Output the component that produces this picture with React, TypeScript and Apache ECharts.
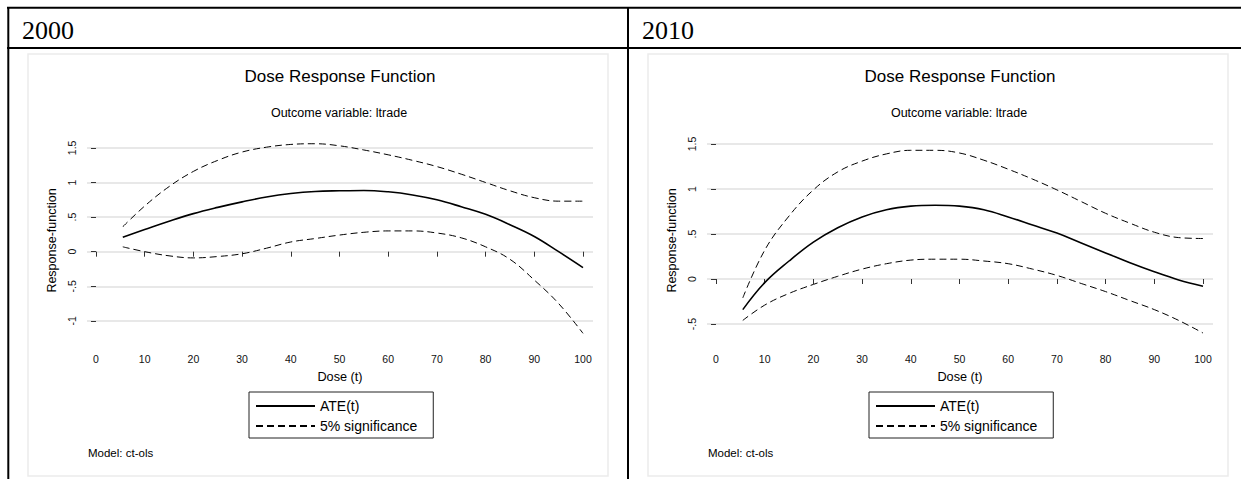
import React, { useEffect, useRef } from 'react';
import * as echarts from 'echarts';

// ---------------- data ----------------
const panelYears = ['2000', '2010'];
const dose = [5.5, 10, 15, 20, 25, 30, 35, 40, 45, 50, 55, 60, 65, 70, 75, 80, 85, 90, 95, 100];

const ate2000 = [0.21, 0.32, 0.44, 0.55, 0.64, 0.72, 0.79, 0.84, 0.87, 0.88, 0.885, 0.865, 0.82, 0.75, 0.65, 0.54, 0.39, 0.22, 0.0, -0.23];
const upper2000 = [0.36, 0.66, 0.94, 1.16, 1.32, 1.44, 1.51, 1.55, 1.56, 1.53, 1.47, 1.4, 1.32, 1.23, 1.12, 1.0, 0.88, 0.78, 0.73, 0.73];
const lower2000 = [0.07, 0.0, -0.06, -0.09, -0.07, -0.03, 0.05, 0.14, 0.19, 0.24, 0.28, 0.3, 0.3, 0.27, 0.2, 0.07, -0.11, -0.41, -0.75, -1.18];

const ate2010 = [-0.34, -0.04, 0.2, 0.41, 0.57, 0.69, 0.77, 0.81, 0.82, 0.81, 0.77, 0.69, 0.6, 0.51, 0.4, 0.29, 0.18, 0.08, -0.01, -0.08];
const upper2010 = [-0.21, 0.32, 0.7, 0.99, 1.19, 1.31, 1.39, 1.43, 1.43, 1.4, 1.32, 1.22, 1.11, 0.99, 0.86, 0.73, 0.62, 0.52, 0.46, 0.45];
const lower2010 = [-0.46, -0.29, -0.16, -0.06, 0.03, 0.11, 0.17, 0.21, 0.22, 0.22, 0.2, 0.17, 0.11, 0.04, -0.05, -0.14, -0.24, -0.34, -0.46, -0.6];

const xTicks = [0, 10, 20, 30, 40, 50, 60, 70, 80, 90, 100];
const yTicks2000 = [-1, -0.5, 0, 0.5, 1, 1.5];
const yTickLabels2000 = ['-1', '-.5', '0', '.5', '1', '1.5'];
const yTicks2010 = [-0.5, 0, 0.5, 1, 1.5];
const yTickLabels2010 = ['-.5', '0', '.5', '1', '1.5'];

const titleText = 'Dose Response Function';
const subtitleText = 'Outcome variable: ltrade';
const modelText = 'Model: ct-ols';
const xName = 'Dose (t)';
const yName = 'Response-function';
const seriesNames = ['ATE(t)', '5% significance'];

// ---------------- layout ----------------
const FONT = '"Liberation Sans", Arial, Helvetica, sans-serif';
const SERIF = '"Liberation Serif", "Times New Roman", serif';

const panels = [
  { off: 0, ate: ate2000, upper: upper2000, lower: lower2000, yTicks: yTicks2000, yLabels: yTickLabels2000, yMin: -1.32, yMax: 1.643 },
  { off: 620, ate: ate2010, upper: upper2010, lower: lower2010, yTicks: yTicks2010, yLabels: yTickLabels2010, yMin: -0.7111, yMax: 1.5667 },
];

function buildOption() {
  const grid: any[] = [];
  const xAxis: any[] = [];
  const yAxis: any[] = [];
  const series: any[] = [];
  const legend: any[] = [];
  const graphic: any[] = [];

  // table borders
  const black = '#000';
  graphic.push(
    { type: 'line', shape: { x1: 7, y1: 7.7, x2: 1241, y2: 7.7 }, style: { stroke: black, lineWidth: 2 } },
    { type: 'line', shape: { x1: 7, y1: 48, x2: 1241, y2: 48 }, style: { stroke: black, lineWidth: 2 } },
    { type: 'line', shape: { x1: 8.3, y1: 7, x2: 8.3, y2: 479 }, style: { stroke: black, lineWidth: 2 } },
    { type: 'line', shape: { x1: 628, y1: 7, x2: 628, y2: 479 }, style: { stroke: black, lineWidth: 2 } }
  );

  panels.forEach((p, i) => {
    const off = p.off;
    graphic.push(
      { type: 'text', x: 22 + off, y: 30, style: { text: panelYears[i], fontSize: 26, fontFamily: SERIF, fill: '#000', align: 'left', verticalAlign: 'middle' } },
      { type: 'rect', shape: { x: 28 + off, y: 54, width: 580, height: 422 }, style: { fill: 'none', stroke: '#ebebeb', lineWidth: 1.5 } },
      { type: 'text', x: 340 + off, y: 76, style: { text: titleText, fontSize: 17, fontFamily: FONT, fill: '#000', align: 'center', verticalAlign: 'middle' } },
      { type: 'text', x: 339 + off, y: 113, style: { text: subtitleText, fontSize: 12.5, fontFamily: FONT, fill: '#000', align: 'center', verticalAlign: 'middle' } },
      { type: 'text', x: 88 + off, y: 453, style: { text: modelText, fontSize: 11.5, fontFamily: FONT, fill: '#000', align: 'left', verticalAlign: 'middle' } }
    );

    grid.push({ left: 87 + off, top: 138, width: 506, height: 205, containLabel: false });

    xAxis.push({
      type: 'value',
      gridIndex: i,
      min: -1.848,
      max: 102.053,
      axisLine: { show: false },
      axisTick: { show: true, length: 5, customValues: xTicks, lineStyle: { color: '#333', width: 1 } },
      axisLabel: { customValues: xTicks, fontSize: 10.5, fontFamily: FONT, color: '#111', margin: 10 },
      splitLine: { show: false },
      name: xName,
      nameLocation: 'middle',
      nameGap: 27,
      nameTextStyle: { fontSize: 12.7, fontFamily: FONT, color: '#000' },
    });

    const labels = p.yLabels;
    const ticks = p.yTicks;
    yAxis.push({
      type: 'value',
      gridIndex: i,
      min: p.yMin,
      max: p.yMax,
      axisLine: { show: false },
      axisTick: { show: true, length: 5, customValues: ticks, lineStyle: { color: '#333', width: 1 } },
      axisLabel: {
        customValues: ticks,
        rotate: 90,
        fontSize: 10.5,
        fontFamily: FONT,
        color: '#111',
        margin: 10,
        formatter: (v: number) => {
          const k = ticks.findIndex((t) => Math.abs(t - v) < 1e-6);
          return k >= 0 ? labels[k] : '';
        },
      },
      splitLine: { show: true, lineStyle: { color: '#e8e8e8', width: 2 } },
      name: yName,
      nameLocation: 'middle',
      nameGap: 28.5,
      nameTextStyle: { fontSize: 12.5, fontFamily: FONT, color: '#000' },
    });

    const mk = (vals: number[]) => dose.map((d, j) => [d, vals[j]]);
    series.push(
      {
        type: 'line', name: seriesNames[0], xAxisIndex: i, yAxisIndex: i, data: mk(p.ate),
        smooth: 0.4, symbol: 'none', lineStyle: { color: '#000', width: 1.6 }, itemStyle: { color: '#000' },
      },
      {
        type: 'line', name: seriesNames[1], xAxisIndex: i, yAxisIndex: i, data: mk(p.upper),
        smooth: 0.4, symbol: 'none', lineStyle: { color: '#000', width: 1, type: [7, 4] }, itemStyle: { color: '#000' },
      },
      {
        type: 'line', name: seriesNames[1], xAxisIndex: i, yAxisIndex: i, data: mk(p.lower),
        smooth: 0.4, symbol: 'none', lineStyle: { color: '#000', width: 1, type: [7, 4] }, itemStyle: { color: '#000' },
      }
    );

    legend.push({
      left: 249 + off,
      top: 392,
      orient: 'vertical',
      data: seriesNames,
      itemWidth: 59,
      itemHeight: 14,
      itemGap: 6,
      padding: [7, 16, 5, 6],
      borderColor: '#222',
      borderWidth: 1,
      selectedMode: false,
      itemStyle: { opacity: 0 },
      textStyle: { fontSize: 14, fontFamily: FONT, color: '#000' },
    });
  });

  return {
    animation: false,
    backgroundColor: '#fff',
    grid,
    xAxis,
    yAxis,
    series,
    legend,
    graphic,
  };
}

export default function App() {
  const ref = useRef<HTMLDivElement>(null);
  useEffect(() => {
    if (!ref.current) return;
    const chart = echarts.init(ref.current, undefined, { renderer: 'svg' });
    chart.setOption(buildOption() as any);
    return () => chart.dispose();
  }, []);
  return (
    <div
      ref={ref}
      style={{ position: 'fixed', left: 0, top: 0, width: 1241, height: 479, background: '#fff' }}
    />
  );
}
